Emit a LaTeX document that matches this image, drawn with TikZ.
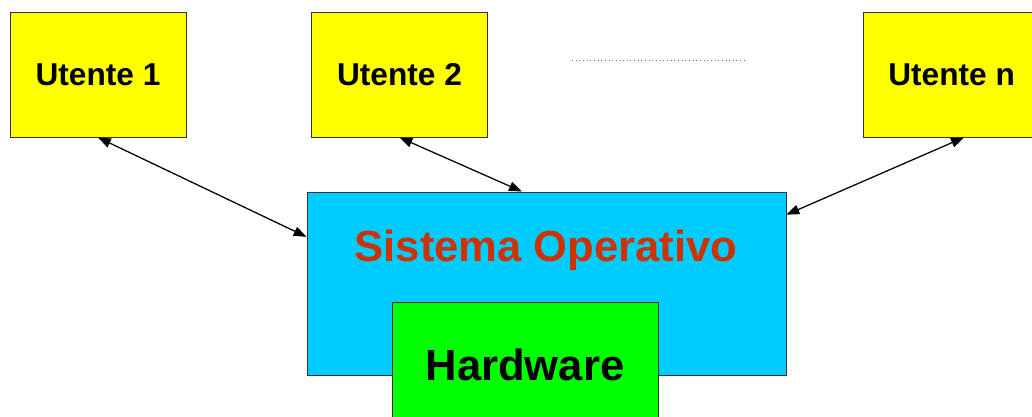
\documentclass[tikz,border=0pt]{standalone}
\usepackage{fontspec}
\setmainfont{Liberation Sans}
\usetikzlibrary{arrows.meta}
\definecolor{utente}{HTML}{FFFF00}
\definecolor{sistema}{HTML}{00CCFF}
\definecolor{hw}{HTML}{00FF00}
\definecolor{sotext}{HTML}{CC3300}
\begin{document}
\begin{tikzpicture}[
    userbox/.style={rectangle, draw=black!80, line width=0.7pt, fill=utente, minimum width=4.4cm, minimum height=3.125cm, font=\bfseries\fontsize{22.5}{27}\selectfont},
    bigbox/.style={rectangle, draw=black!80, line width=0.7pt, font=\bfseries\fontsize{31}{37}\selectfont},
    link/.style={<->, line width=0.9pt},
    >={Triangle[length=0.32cm,width=0.24cm]}
]
\clip (0,0) rectangle (25.8,10.425);
% Utenti
\node[userbox] (u1) at (2.45,8.5625) {Utente 1};
\node[userbox] (u2) at (9.9875,8.5625) {Utente 2};
\node[userbox] (un) at (23.79,8.5625) {Utente n};
\draw[black!55, dotted, line width=0.6pt] (14.3,8.925) -- (18.675,8.925);

% Sistema e hardware
\node[bigbox, fill=sistema, minimum width=11.975cm, minimum height=4.575cm] (so) at (13.6625,3.3375) {};
\node[font=\bfseries\fontsize{31}{37}\selectfont, text=sotext] (sotitle) at (13.65,4.175) {Sistema Operativo};
\node[bigbox, fill=hw, minimum width=6.65cm, minimum height=3.15cm] (hw) at (13.125,1.3) {Hardware};

\draw[link] (u1.south) -- (so.169);
\draw[link] (u2.south) -- (so.105);
\draw[link] (un.-79) -- (so.16);
\end{tikzpicture}
\end{document}
